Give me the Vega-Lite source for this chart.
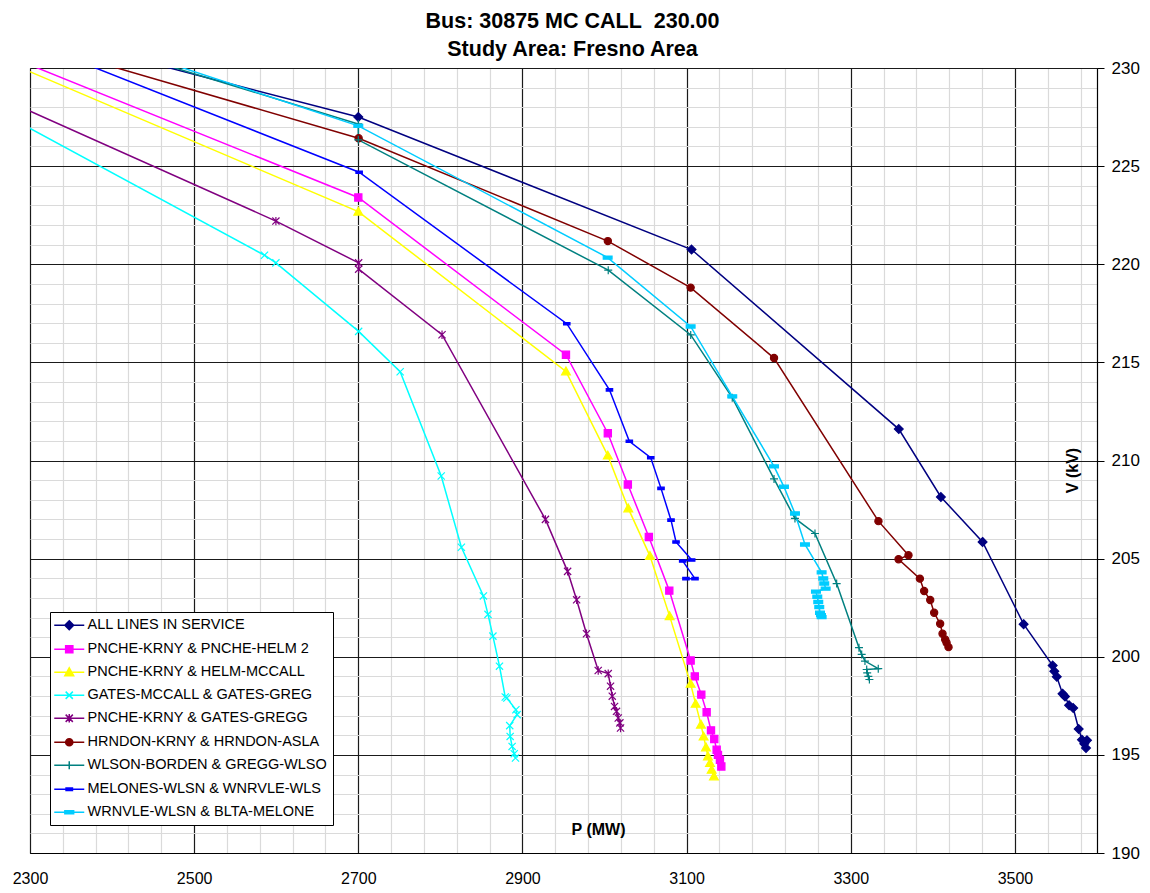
{
  "$schema": "https://vega.github.io/schema/vega-lite/v6.json",
  "autosize": {"type": "none"},
  "padding": {"left": 30, "top": 68, "right": 53, "bottom": 40},
  "width": 1067,
  "height": 785,
  "background": "white",
  "title": {
    "text": ["Bus: 30875 MC CALL\u00a0 230.00", "Study Area: Fresno Area"],
    "font": "Liberation Sans", "fontSize": 21.5, "fontWeight": "bold", "color": "black",
    "anchor": "middle", "dx": 9, "offset": -1, "lineHeight": 28
  },
  "config": {
    "view": {"stroke": "#555", "strokeWidth": 1}
  },
  "data": {"values": [
    {"s": "ALL LINES IN SERVICE", "p": 2250, "v": 232.4},
    {"s": "ALL LINES IN SERVICE", "p": 2700, "v": 227.5},
    {"s": "ALL LINES IN SERVICE", "p": 3106, "v": 220.75},
    {"s": "ALL LINES IN SERVICE", "p": 3358.5, "v": 211.6},
    {"s": "ALL LINES IN SERVICE", "p": 3409.8, "v": 208.14},
    {"s": "ALL LINES IN SERVICE", "p": 3460.6, "v": 205.85},
    {"s": "ALL LINES IN SERVICE", "p": 3510.6, "v": 201.66},
    {"s": "ALL LINES IN SERVICE", "p": 3546, "v": 199.55},
    {"s": "ALL LINES IN SERVICE", "p": 3548, "v": 199.26},
    {"s": "ALL LINES IN SERVICE", "p": 3551, "v": 198.98},
    {"s": "ALL LINES IN SERVICE", "p": 3558, "v": 198.12},
    {"s": "ALL LINES IN SERVICE", "p": 3561, "v": 197.98},
    {"s": "ALL LINES IN SERVICE", "p": 3566, "v": 197.53},
    {"s": "ALL LINES IN SERVICE", "p": 3571, "v": 197.39},
    {"s": "ALL LINES IN SERVICE", "p": 3577.7, "v": 196.32},
    {"s": "ALL LINES IN SERVICE", "p": 3581.7, "v": 195.77},
    {"s": "ALL LINES IN SERVICE", "p": 3587.8, "v": 195.74},
    {"s": "ALL LINES IN SERVICE", "p": 3584.5, "v": 195.57},
    {"s": "ALL LINES IN SERVICE", "p": 3586.6, "v": 195.35},

    {"s": "PNCHE-KRNY & PNCHE-HELM 2", "p": 2250, "v": 231.0},
    {"s": "PNCHE-KRNY & PNCHE-HELM 2", "p": 2700, "v": 223.4},
    {"s": "PNCHE-KRNY & PNCHE-HELM 2", "p": 2953, "v": 215.39},
    {"s": "PNCHE-KRNY & PNCHE-HELM 2", "p": 3004, "v": 211.39},
    {"s": "PNCHE-KRNY & PNCHE-HELM 2", "p": 3028.4, "v": 208.78},
    {"s": "PNCHE-KRNY & PNCHE-HELM 2", "p": 3054, "v": 206.1},
    {"s": "PNCHE-KRNY & PNCHE-HELM 2", "p": 3078.9, "v": 203.37},
    {"s": "PNCHE-KRNY & PNCHE-HELM 2", "p": 3104.9, "v": 199.81},
    {"s": "PNCHE-KRNY & PNCHE-HELM 2", "p": 3110, "v": 199.0},
    {"s": "PNCHE-KRNY & PNCHE-HELM 2", "p": 3117.9, "v": 198.07},
    {"s": "PNCHE-KRNY & PNCHE-HELM 2", "p": 3124.4, "v": 197.17},
    {"s": "PNCHE-KRNY & PNCHE-HELM 2", "p": 3129.7, "v": 196.25},
    {"s": "PNCHE-KRNY & PNCHE-HELM 2", "p": 3133.7, "v": 195.81},
    {"s": "PNCHE-KRNY & PNCHE-HELM 2", "p": 3136.6, "v": 195.26},
    {"s": "PNCHE-KRNY & PNCHE-HELM 2", "p": 3138.2, "v": 195.0},
    {"s": "PNCHE-KRNY & PNCHE-HELM 2", "p": 3140.6, "v": 194.75},
    {"s": "PNCHE-KRNY & PNCHE-HELM 2", "p": 3142.3, "v": 194.41},

    {"s": "PNCHE-KRNY & HELM-MCCALL", "p": 2250, "v": 230.7},
    {"s": "PNCHE-KRNY & HELM-MCCALL", "p": 2700, "v": 222.68},
    {"s": "PNCHE-KRNY & HELM-MCCALL", "p": 2953, "v": 214.54},
    {"s": "PNCHE-KRNY & HELM-MCCALL", "p": 3004, "v": 210.25},
    {"s": "PNCHE-KRNY & HELM-MCCALL", "p": 3028.9, "v": 207.56},
    {"s": "PNCHE-KRNY & HELM-MCCALL", "p": 3055.3, "v": 205.14},
    {"s": "PNCHE-KRNY & HELM-MCCALL", "p": 3079.3, "v": 202.07},
    {"s": "PNCHE-KRNY & HELM-MCCALL", "p": 3104.9, "v": 198.62},
    {"s": "PNCHE-KRNY & HELM-MCCALL", "p": 3111, "v": 197.6},
    {"s": "PNCHE-KRNY & HELM-MCCALL", "p": 3117.5, "v": 196.54},
    {"s": "PNCHE-KRNY & HELM-MCCALL", "p": 3120.7, "v": 195.93},
    {"s": "PNCHE-KRNY & HELM-MCCALL", "p": 3123.6, "v": 195.38},
    {"s": "PNCHE-KRNY & HELM-MCCALL", "p": 3126, "v": 194.92},
    {"s": "PNCHE-KRNY & HELM-MCCALL", "p": 3128.5, "v": 194.58},
    {"s": "PNCHE-KRNY & HELM-MCCALL", "p": 3130.5, "v": 194.24},
    {"s": "PNCHE-KRNY & HELM-MCCALL", "p": 3133.3, "v": 193.9},

    {"s": "GATES-MCCALL & GATES-GREG", "p": 2250, "v": 228.05},
    {"s": "GATES-MCCALL & GATES-GREG", "p": 2585.7, "v": 220.46},
    {"s": "GATES-MCCALL & GATES-GREG", "p": 2599.6, "v": 220.07},
    {"s": "GATES-MCCALL & GATES-GREG", "p": 2700.4, "v": 216.58},
    {"s": "GATES-MCCALL & GATES-GREG", "p": 2751, "v": 214.52},
    {"s": "GATES-MCCALL & GATES-GREG", "p": 2801, "v": 209.21},
    {"s": "GATES-MCCALL & GATES-GREG", "p": 2825.6, "v": 205.58},
    {"s": "GATES-MCCALL & GATES-GREG", "p": 2852.4, "v": 203.1},
    {"s": "GATES-MCCALL & GATES-GREG", "p": 2858, "v": 202.16},
    {"s": "GATES-MCCALL & GATES-GREG", "p": 2864, "v": 201.05},
    {"s": "GATES-MCCALL & GATES-GREG", "p": 2872, "v": 199.52},
    {"s": "GATES-MCCALL & GATES-GREG", "p": 2879, "v": 197.95},
    {"s": "GATES-MCCALL & GATES-GREG", "p": 2881, "v": 197.9},
    {"s": "GATES-MCCALL & GATES-GREG", "p": 2892, "v": 197.3},
    {"s": "GATES-MCCALL & GATES-GREG", "p": 2893.5, "v": 197.05},
    {"s": "GATES-MCCALL & GATES-GREG", "p": 2884.5, "v": 196.49},
    {"s": "GATES-MCCALL & GATES-GREG", "p": 2885, "v": 195.94},
    {"s": "GATES-MCCALL & GATES-GREG", "p": 2887.4, "v": 195.43},
    {"s": "GATES-MCCALL & GATES-GREG", "p": 2890, "v": 195.06},
    {"s": "GATES-MCCALL & GATES-GREG", "p": 2891.5, "v": 194.84},

    {"s": "PNCHE-KRNY & GATES-GREGG", "p": 2250, "v": 228.74},
    {"s": "PNCHE-KRNY & GATES-GREGG", "p": 2599.6, "v": 222.2},
    {"s": "PNCHE-KRNY & GATES-GREGG", "p": 2700.4, "v": 220.07},
    {"s": "PNCHE-KRNY & GATES-GREGG", "p": 2700.4, "v": 219.75},
    {"s": "PNCHE-KRNY & GATES-GREGG", "p": 2802, "v": 216.41},
    {"s": "PNCHE-KRNY & GATES-GREGG", "p": 2928, "v": 207.0},
    {"s": "PNCHE-KRNY & GATES-GREGG", "p": 2955, "v": 204.35},
    {"s": "PNCHE-KRNY & GATES-GREGG", "p": 2966, "v": 202.9},
    {"s": "PNCHE-KRNY & GATES-GREGG", "p": 2978, "v": 201.17},
    {"s": "PNCHE-KRNY & GATES-GREGG", "p": 2992.3, "v": 199.3},
    {"s": "PNCHE-KRNY & GATES-GREGG", "p": 3004.5, "v": 199.14},
    {"s": "PNCHE-KRNY & GATES-GREGG", "p": 3007.3, "v": 198.5},
    {"s": "PNCHE-KRNY & GATES-GREGG", "p": 3009.4, "v": 197.99},
    {"s": "PNCHE-KRNY & GATES-GREGG", "p": 3012.2, "v": 197.47},
    {"s": "PNCHE-KRNY & GATES-GREGG", "p": 3014.6, "v": 197.22},
    {"s": "PNCHE-KRNY & GATES-GREGG", "p": 3016.7, "v": 196.88},
    {"s": "PNCHE-KRNY & GATES-GREGG", "p": 3018.7, "v": 196.63},
    {"s": "PNCHE-KRNY & GATES-GREGG", "p": 3019.5, "v": 196.37},

    {"s": "HRNDON-KRNY & HRNDON-ASLA", "p": 2250, "v": 231.9},
    {"s": "HRNDON-KRNY & HRNDON-ASLA", "p": 2700.4, "v": 226.42},
    {"s": "HRNDON-KRNY & HRNDON-ASLA", "p": 3004, "v": 221.18},
    {"s": "HRNDON-KRNY & HRNDON-ASLA", "p": 3104.9, "v": 218.81},
    {"s": "HRNDON-KRNY & HRNDON-ASLA", "p": 3206.5, "v": 215.22},
    {"s": "HRNDON-KRNY & HRNDON-ASLA", "p": 3333.7, "v": 206.91},
    {"s": "HRNDON-KRNY & HRNDON-ASLA", "p": 3370.3, "v": 205.17},
    {"s": "HRNDON-KRNY & HRNDON-ASLA", "p": 3358.2, "v": 204.97},
    {"s": "HRNDON-KRNY & HRNDON-ASLA", "p": 3384.2, "v": 203.98},
    {"s": "HRNDON-KRNY & HRNDON-ASLA", "p": 3389.4, "v": 203.35},
    {"s": "HRNDON-KRNY & HRNDON-ASLA", "p": 3396.8, "v": 202.89},
    {"s": "HRNDON-KRNY & HRNDON-ASLA", "p": 3401.6, "v": 202.24},
    {"s": "HRNDON-KRNY & HRNDON-ASLA", "p": 3408.9, "v": 201.68},
    {"s": "HRNDON-KRNY & HRNDON-ASLA", "p": 3411.8, "v": 201.17},
    {"s": "HRNDON-KRNY & HRNDON-ASLA", "p": 3415, "v": 200.88},
    {"s": "HRNDON-KRNY & HRNDON-ASLA", "p": 3416.7, "v": 200.71},
    {"s": "HRNDON-KRNY & HRNDON-ASLA", "p": 3419.1, "v": 200.49},

    {"s": "WLSON-BORDEN & GREGG-WLSO", "p": 2250, "v": 232.9},
    {"s": "WLSON-BORDEN & GREGG-WLSO", "p": 2700, "v": 227.15},
    {"s": "WLSON-BORDEN & GREGG-WLSO", "p": 2700, "v": 226.34},
    {"s": "WLSON-BORDEN & GREGG-WLSO", "p": 3004.5, "v": 219.7},
    {"s": "WLSON-BORDEN & GREGG-WLSO", "p": 3105, "v": 216.4},
    {"s": "WLSON-BORDEN & GREGG-WLSO", "p": 3155.6, "v": 213.2},
    {"s": "WLSON-BORDEN & GREGG-WLSO", "p": 3206.5, "v": 209.06},
    {"s": "WLSON-BORDEN & GREGG-WLSO", "p": 3232, "v": 207.05},
    {"s": "WLSON-BORDEN & GREGG-WLSO", "p": 3256.4, "v": 206.28},
    {"s": "WLSON-BORDEN & GREGG-WLSO", "p": 3282.8, "v": 203.73},
    {"s": "WLSON-BORDEN & GREGG-WLSO", "p": 3310, "v": 200.46},
    {"s": "WLSON-BORDEN & GREGG-WLSO", "p": 3313.3, "v": 200.12},
    {"s": "WLSON-BORDEN & GREGG-WLSO", "p": 3317.3, "v": 199.78},
    {"s": "WLSON-BORDEN & GREGG-WLSO", "p": 3333.5, "v": 199.39},
    {"s": "WLSON-BORDEN & GREGG-WLSO", "p": 3319.4, "v": 199.35},
    {"s": "WLSON-BORDEN & GREGG-WLSO", "p": 3320, "v": 199.18},
    {"s": "WLSON-BORDEN & GREGG-WLSO", "p": 3321.4, "v": 199.0},
    {"s": "WLSON-BORDEN & GREGG-WLSO", "p": 3322.7, "v": 198.84},

    {"s": "MELONES-WLSN & WNRVLE-WLS", "p": 2250, "v": 232.15},
    {"s": "MELONES-WLSN & WNRVLE-WLS", "p": 2701, "v": 224.69},
    {"s": "MELONES-WLSN & WNRVLE-WLS", "p": 2954, "v": 216.97},
    {"s": "MELONES-WLSN & WNRVLE-WLS", "p": 3006, "v": 213.6},
    {"s": "MELONES-WLSN & WNRVLE-WLS", "p": 3030.2, "v": 210.98},
    {"s": "MELONES-WLSN & WNRVLE-WLS", "p": 3056.3, "v": 210.14},
    {"s": "MELONES-WLSN & WNRVLE-WLS", "p": 3068.8, "v": 208.58},
    {"s": "MELONES-WLSN & WNRVLE-WLS", "p": 3081, "v": 206.96},
    {"s": "MELONES-WLSN & WNRVLE-WLS", "p": 3087.1, "v": 205.85},
    {"s": "MELONES-WLSN & WNRVLE-WLS", "p": 3106.2, "v": 204.93},
    {"s": "MELONES-WLSN & WNRVLE-WLS", "p": 3095.2, "v": 204.88},
    {"s": "MELONES-WLSN & WNRVLE-WLS", "p": 3110.2, "v": 203.98},
    {"s": "MELONES-WLSN & WNRVLE-WLS", "p": 3099.2, "v": 203.98},

    {"s": "WRNVLE-WLSN & BLTA-MELONE", "p": 2250, "v": 233.27},
    {"s": "WRNVLE-WLSN & BLTA-MELONE", "p": 2700, "v": 227.05},
    {"s": "WRNVLE-WLSN & BLTA-MELONE", "p": 3003.8, "v": 220.34},
    {"s": "WRNVLE-WLSN & BLTA-MELONE", "p": 3104.9, "v": 216.83},
    {"s": "WRNVLE-WLSN & BLTA-MELONE", "p": 3155.6, "v": 213.27},
    {"s": "WRNVLE-WLSN & BLTA-MELONE", "p": 3206.5, "v": 209.7},
    {"s": "WRNVLE-WLSN & BLTA-MELONE", "p": 3218.6, "v": 208.66},
    {"s": "WRNVLE-WLSN & BLTA-MELONE", "p": 3232, "v": 207.3},
    {"s": "WRNVLE-WLSN & BLTA-MELONE", "p": 3244.2, "v": 205.72},
    {"s": "WRNVLE-WLSN & BLTA-MELONE", "p": 3264.5, "v": 204.3},
    {"s": "WRNVLE-WLSN & BLTA-MELONE", "p": 3266.5, "v": 203.99},
    {"s": "WRNVLE-WLSN & BLTA-MELONE", "p": 3267.7, "v": 203.73},
    {"s": "WRNVLE-WLSN & BLTA-MELONE", "p": 3269.4, "v": 203.47},
    {"s": "WRNVLE-WLSN & BLTA-MELONE", "p": 3257.6, "v": 203.32},
    {"s": "WRNVLE-WLSN & BLTA-MELONE", "p": 3259.2, "v": 203.06},
    {"s": "WRNVLE-WLSN & BLTA-MELONE", "p": 3260.4, "v": 202.79},
    {"s": "WRNVLE-WLSN & BLTA-MELONE", "p": 3261.6, "v": 202.53},
    {"s": "WRNVLE-WLSN & BLTA-MELONE", "p": 3262.5, "v": 202.24},
    {"s": "WRNVLE-WLSN & BLTA-MELONE", "p": 3263.7, "v": 202.12},
    {"s": "WRNVLE-WLSN & BLTA-MELONE", "p": 3264.5, "v": 202.02}
  ]},
  "encoding": {
    "x": {
      "field": "p", "type": "quantitative",
      "scale": {"domain": [2300, 3600], "nice": false, "zero": false},
      "axis": {
        "values": [2300,2340,2380,2420,2460,2500,2540,2580,2620,2660,2700,2740,2780,2820,2860,2900,2940,2980,3020,3060,3100,3140,3180,3220,3260,3300,3340,3380,3420,3460,3500,3540,3580],
        "format": "d",
        "grid": true,
        "gridColor": {"condition": {"test": "(datum.value - 2300) % 200 === 0", "value": "#1a1a1a"}, "value": "#dadada"},
        "gridWidth": 1.2,
        "ticks": false,
        "labelExpr": "(datum.value - 2300) % 200 === 0 ? datum.label : ''",
        "labelFlush": false, "labelOverlap": false, "labelBound": false,
        "labelFont": "Liberation Sans", "labelFontSize": 16, "labelColor": "black", "labelPadding": 17,
        "domainColor": "black", "domainWidth": 1.2,
        "title": "P (MW)", "titleFont": "Liberation Sans", "titleFontSize": 16, "titleFontWeight": "bold", "titleColor": "black",
        "titleX": 568, "titleY": -24, "titleBaseline": "middle", "titleAlign": "center"
      }
    },
    "y": {
      "field": "v", "type": "quantitative",
      "scale": {"domain": [190, 230], "nice": false, "zero": false},
      "axis": {
        "orient": "right",
        "values": [190,191,192,193,194,195,196,197,198,199,200,201,202,203,204,205,206,207,208,209,210,211,212,213,214,215,216,217,218,219,220,221,222,223,224,225,226,227,228,229,230],
        "format": "d",
        "grid": true,
        "gridColor": {"condition": {"test": "datum.value % 5 === 0", "value": "#1a1a1a"}, "value": "#dadada"},
        "gridWidth": 1.2,
        "ticks": true, "tickSize": 7,
        "tickColor": {"condition": {"test": "datum.value % 5 === 0", "value": "black"}, "value": "transparent"},
        "labelExpr": "datum.value % 5 === 0 ? datum.label : ''",
        "labelFlush": false, "labelOverlap": false, "labelBound": false,
        "labelFont": "Liberation Sans", "labelFontSize": 17, "labelColor": "black", "labelPadding": 7,
        "domainColor": "black", "domainWidth": 1.2,
        "title": "V (kV)", "titleFont": "Liberation Sans", "titleFontSize": 16, "titleFontWeight": "bold", "titleColor": "black",
        "titleAngle": 270, "titleX": -25, "titleY": 402, "titleBaseline": "middle", "titleAlign": "center"
      }
    }
  },
  "layer": [
    {
      "mark": {"type": "line", "strokeWidth": 1.5, "clip": true},
      "encoding": {
        "order": {"value": null},
        "color": {
          "field": "s", "type": "nominal",
          "scale": {
            "domain": ["ALL LINES IN SERVICE", "PNCHE-KRNY & PNCHE-HELM 2", "PNCHE-KRNY & HELM-MCCALL", "GATES-MCCALL & GATES-GREG", "PNCHE-KRNY & GATES-GREGG", "HRNDON-KRNY & HRNDON-ASLA", "WLSON-BORDEN & GREGG-WLSO", "MELONES-WLSN & WNRVLE-WLS", "WRNVLE-WLSN & BLTA-MELONE"],
            "range": ["#000080", "#FF00FF", "#FFFF00", "#00FFFF", "#800080", "#800000", "#008080", "#0000FF", "#00CCFF"]
          },
          "legend": {
            "orient": "none", "legendX": 20, "legendY": 544, "title": null,
            "direction": "vertical",
            "fillColor": "white", "strokeColor": "black",
            "padding": 6,
            "labelFont": "Liberation Sans", "labelFontSize": 14.5, "labelColor": "black", "labelLimit": 400,
            "symbolSize": 64, "symbolStrokeWidth": 1.5, "symbolOffset": 6, "labelOffset": 11, "rowPadding": 8,
            "encoding": {
              "symbols": {
                "shape": {"value": {"expr": "'M-3.75,0L3.75,0' + ['M0,-1.1L1.1,0L0,1.1L-1.1,0Z', 'M-0.9,-0.9L0.9,-0.9L0.9,0.9L-0.9,0.9Z', 'M0,-1.1L1.1,0.85L-1.1,0.85Z', 'M-0.9,-0.9L0.9,0.9M-0.9,0.9L0.9,-0.9', 'M-0.9,-0.9L0.9,0.9M-0.9,0.9L0.9,-0.9M0,-1.05L0,1.05', 'M-0.9,0A0.9,0.9,0,1,0,0.9,0A0.9,0.9,0,1,0,-0.9,0Z', 'M-1,0L1,0M0,-1L0,1', 'M-0.8,-0.3L0.8,-0.3L0.8,0.3L-0.8,0.3Z', 'M-1.1,-0.4L1.1,-0.4L1.1,0.4L-1.1,0.4Z'][indexof(['ALL LINES IN SERVICE', 'PNCHE-KRNY & PNCHE-HELM 2', 'PNCHE-KRNY & HELM-MCCALL', 'GATES-MCCALL & GATES-GREG', 'PNCHE-KRNY & GATES-GREGG', 'HRNDON-KRNY & HRNDON-ASLA', 'WLSON-BORDEN & GREGG-WLSO', 'MELONES-WLSN & WNRVLE-WLS', 'WRNVLE-WLSN & BLTA-MELONE'], datum.value)]"}},
                "fill": {"value": {"expr": "scale('color', datum.value)"}}
              }
            }
          }
        }
      }
    },
    {
      "transform": [{"filter": {"field": "s", "equal": "ALL LINES IN SERVICE"}}],
      "mark": {"type": "point", "filled": true, "size": 64, "strokeWidth": 1.2, "clip": true, "color": "#000080", "stroke": "#000080", "opacity": 1, "shape": "M0,-1.1L1.1,0L0,1.1L-1.1,0Z"}
    },
    {
      "transform": [{"filter": {"field": "s", "equal": "PNCHE-KRNY & PNCHE-HELM 2"}}],
      "mark": {"type": "point", "filled": true, "size": 64, "strokeWidth": 1.2, "clip": true, "color": "#FF00FF", "stroke": "#FF00FF", "opacity": 1, "shape": "M-0.9,-0.9L0.9,-0.9L0.9,0.9L-0.9,0.9Z"}
    },
    {
      "transform": [{"filter": {"field": "s", "equal": "PNCHE-KRNY & HELM-MCCALL"}}],
      "mark": {"type": "point", "filled": true, "size": 64, "strokeWidth": 1.2, "clip": true, "color": "#FFFF00", "stroke": "#FFFF00", "opacity": 1, "shape": "M0,-1.1L1.1,0.85L-1.1,0.85Z"}
    },
    {
      "transform": [{"filter": {"field": "s", "equal": "GATES-MCCALL & GATES-GREG"}}],
      "mark": {"type": "point", "filled": true, "size": 64, "strokeWidth": 1.2, "clip": true, "color": "#00FFFF", "stroke": "#00FFFF", "opacity": 1, "shape": "M-0.9,-0.9L0.9,0.9M-0.9,0.9L0.9,-0.9"}
    },
    {
      "transform": [{"filter": {"field": "s", "equal": "PNCHE-KRNY & GATES-GREGG"}}],
      "mark": {"type": "point", "filled": true, "size": 64, "strokeWidth": 1.2, "clip": true, "color": "#800080", "stroke": "#800080", "opacity": 1, "shape": "M-0.9,-0.9L0.9,0.9M-0.9,0.9L0.9,-0.9M0,-1.05L0,1.05"}
    },
    {
      "transform": [{"filter": {"field": "s", "equal": "HRNDON-KRNY & HRNDON-ASLA"}}],
      "mark": {"type": "point", "filled": true, "size": 64, "strokeWidth": 1.2, "clip": true, "color": "#800000", "stroke": "#800000", "opacity": 1, "shape": "M-0.9,0A0.9,0.9,0,1,0,0.9,0A0.9,0.9,0,1,0,-0.9,0Z"}
    },
    {
      "transform": [{"filter": {"field": "s", "equal": "WLSON-BORDEN & GREGG-WLSO"}}],
      "mark": {"type": "point", "filled": true, "size": 64, "strokeWidth": 1.2, "clip": true, "color": "#008080", "stroke": "#008080", "opacity": 1, "shape": "M-1,0L1,0M0,-1L0,1"}
    },
    {
      "transform": [{"filter": {"field": "s", "equal": "MELONES-WLSN & WNRVLE-WLS"}}],
      "mark": {"type": "point", "filled": true, "size": 64, "strokeWidth": 1.2, "clip": true, "color": "#0000FF", "stroke": "#0000FF", "opacity": 1, "shape": "M-0.8,-0.3L0.8,-0.3L0.8,0.3L-0.8,0.3Z"}
    },
    {
      "transform": [{"filter": {"field": "s", "equal": "WRNVLE-WLSN & BLTA-MELONE"}}],
      "mark": {"type": "point", "filled": true, "size": 64, "strokeWidth": 1.2, "clip": true, "color": "#00CCFF", "stroke": "#00CCFF", "opacity": 1, "shape": "M-1.1,-0.4L1.1,-0.4L1.1,0.4L-1.1,0.4Z"}
    }
  ]
}
